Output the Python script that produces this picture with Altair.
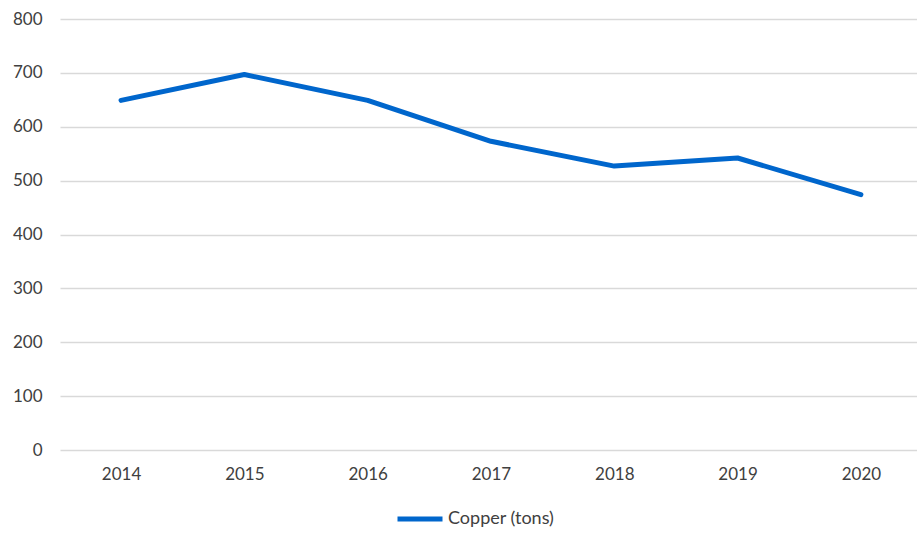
import altair as alt
import pandas as pd

years = [2014, 2015, 2016, 2017, 2018, 2019, 2020]
copper_tons = [649, 697, 649, 573, 527, 542, 474]
series_name = "Copper (tons)"

df = pd.DataFrame({"year": years, "value": copper_tons, "series": series_name})

FONT = "Lato"
TEXT = "#404040"

chart = (
    alt.Chart(df)
    .mark_line(strokeWidth=5, strokeCap="round", strokeJoin="round")
    .encode(
        x=alt.X(
            "year:Q",
            scale=alt.Scale(domain=[2013.505, 2020.455], nice=False, zero=False),
            axis=alt.Axis(
                values=years,
                format="d",
                title=None,
                grid=False,
                ticks=False,
                domain=False,
                labelFont=FONT,
                labelFontSize=17,
                labelColor=TEXT,
                labelPadding=16,
            ),
        ),
        y=alt.Y(
            "value:Q",
            scale=alt.Scale(domain=[0, 800], nice=False),
            axis=alt.Axis(
                values=[0, 100, 200, 300, 400, 500, 600, 700, 800],
                title=None,
                ticks=False,
                domain=False,
                gridColor="#d9d9d9",
                gridWidth=1.5,
                labelFont=FONT,
                labelFontSize=17,
                labelColor=TEXT,
                labelPadding=18,
            ),
        ),
        color=alt.Color(
            "series:N",
            scale=alt.Scale(range=["#0066CC"]),
            legend=alt.Legend(
                title=None,
                orient="none",
                legendX=335,
                legendY=475,
                symbolType="stroke",
                symbolStrokeWidth=5,
                symbolSize=2025,
                labelFont=FONT,
                labelFontSize=18,
                labelColor=TEXT,
                labelOffset=3,
            ),
        ),
    )
    .properties(
        width=857,
        height=431,
        background="white",
        autosize=alt.AutoSizeParams(type="none"),
        padding={"left": 60, "top": 19, "right": 0, "bottom": 83},
    )
    .configure_view(stroke=None, strokeOpacity=0, strokeWidth=0)
    .configure_axis(domain=False, ticks=False)
    .configure_axisX(grid=False)
)

chart.save("out.html", embed_options={"renderer": "svg", "actions": False})
